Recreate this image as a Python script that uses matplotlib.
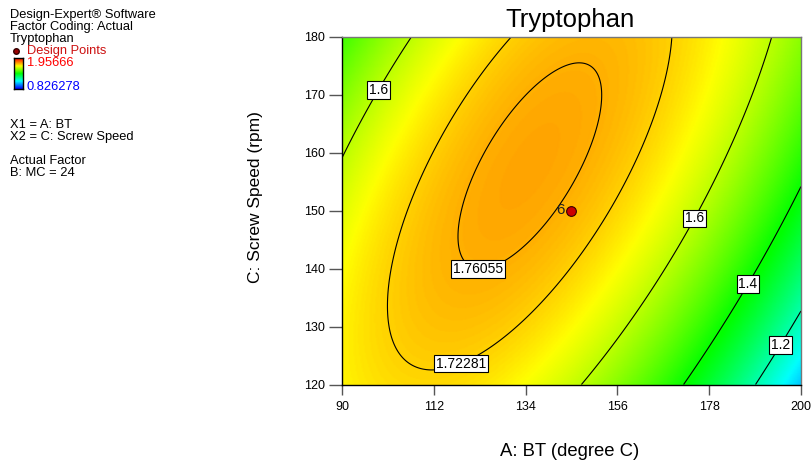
import numpy as np
import matplotlib
matplotlib.use("Agg")
import matplotlib.pyplot as plt
from matplotlib.colors import LinearSegmentedColormap

plt.rcParams['font.family'] = ['Liberation Sans', 'DejaVu Sans']

# ---- data: fitted quadratic model (coded factors) ----
# y = b0 + b1*x1 + b2*x2 + b12*x1*x2 + b11*x1^2 + b22*x2^2,
# x1 = (BT - 145)/55, x2 = (Screw speed - 150)/30
coef_names = ["b0", "b1", "b2", "b12", "b11", "b22"]
coef_values = [1.75215, -0.13688, 0.06859, 0.18027, -0.24865, -0.06936]
bt_range = [90, 200]
speed_range = [120, 180]
contour_levels = [1.2, 1.4, 1.6, 1.72281, 1.76055]
contour_texts = ["1.2", "1.4", "1.6", "1.72281", "1.76055"]
design_bt = [145]
design_speed = [150]
design_reps = ["6"]
x_ticks = [90, 112, 134, 156, 178, 200]
y_ticks = [120, 130, 140, 150, 160, 170, 180]
resp_max = 1.95666
resp_min = 0.826278

# ---- label placement (positions only) ----
label_pos = [(97.9, 171.2), (122.8, 141.0), (117.7, 124.9),
             (173.9, 148.9), (186.7, 137.6), (194.4, 127.1)]

c = dict(zip(coef_names, coef_values))
bt = np.linspace(bt_range[0], bt_range[1], 400)
sp = np.linspace(speed_range[0], speed_range[1], 400)
BT, SP = np.meshgrid(bt, sp)
X1 = (BT - 145) / 55.0
X2 = (SP - 150) / 30.0
Z = (c["b0"] + c["b1"] * X1 + c["b2"] * X2 + c["b12"] * X1 * X2
     + c["b11"] * X1 ** 2 + c["b22"] * X2 ** 2)

cmap = LinearSegmentedColormap.from_list(
    "de", [(0, "#0000ff"), (0.25, "#00ffff"), (0.5, "#00ff00"),
           (0.75, "#ffff00"), (1, "#ff0000")])

fig = plt.figure(figsize=(8.12, 4.61), dpi=100)
ax = fig.add_axes([342 / 812, 1 - 384.5 / 461, 459 / 812, 347.5 / 461])
ax.pcolormesh(BT, SP, Z, cmap=cmap, vmin=resp_min, vmax=resp_max,
              shading="gouraud", rasterized=True)
cs = ax.contour(BT, SP, Z, levels=contour_levels, colors="k", linewidths=0.8)
fmt = dict(zip(contour_levels, contour_texts))
texts = ax.clabel(cs, contour_levels, manual=label_pos, inline=False,
                  fmt=fmt, fontsize=10)
for t in texts:
    t.set_rotation(0)
    t.set_bbox(dict(facecolor="white", edgecolor="black", pad=1.3, linewidth=0.8))

ax.plot(design_bt, design_speed, "o", ms=7, mfc="#cc0000", mec="#330000",
        mew=0.8, zorder=5)
for xb, ys, r in zip(design_bt, design_speed, design_reps):
    ax.annotate(r, (xb, ys), xytext=(-5, 0.5), textcoords="offset points",
                ha="right", va="center", fontsize=11, color="#222222")

ax.set_xlim(bt_range)
ax.set_ylim(speed_range)
ax.set_xticks(x_ticks)
ax.set_yticks(y_ticks)
ax.tick_params(axis="x", direction="out", length=7, width=1, color="#555555",
               labelsize=9, pad=5)
ax.tick_params(axis="y", direction="out", length=9.5, width=1, color="#555555",
               labelsize=9, pad=3)
for s in ["left", "bottom"]:
    ax.spines[s].set_color("black")
    ax.spines[s].set_linewidth(1)
for s in ["top", "right"]:
    ax.spines[s].set_color("#777777")
    ax.spines[s].set_linewidth(1)

fig.text(570 / 812, 1 - 20 / 461, "Tryptophan", ha="center", va="center",
         fontsize=18.5)
fig.text(570 / 812, 1 - 451 / 461, "A: BT (degree C)", ha="center",
         va="center", fontsize=13.3)
fig.text(256 / 812, 1 - 197 / 461, "C: Screw Speed (rpm)", ha="center",
         va="center", rotation=90, fontsize=12.5)

# ---- left information panel ----
def ftxt(x, y, s, color="black"):
    fig.text(x / 812, 1 - y / 461, s, ha="left", va="center", fontsize=9.3,
             color=color)

ftxt(10, 15, "Design-Expert\u00ae Software")
ftxt(10, 27, "Factor Coding: Actual")
ftxt(10, 39, "Tryptophan")
ftxt(27, 50.5, "Design Points", color="#cc1111")
ftxt(27, 62.5, "%.5f" % resp_max, color="#ff0000")
ftxt(27, 87.5, "%.6f" % resp_min, color="#0000ff")
ftxt(10, 124.5, "X1 = A: BT")
ftxt(10, 136.5, "X2 = C: Screw Speed")
ftxt(10, 160.5, "Actual Factor")
ftxt(10, 173, "B: MC = 24")

fig.lines.append(plt.Line2D([15.7 / 812], [1 - 50.5 / 461], marker="o", ms=4,
                            mfc="#990000", mec="#330000", transform=fig.transFigure,
                            figure=fig))
cax = fig.add_axes([14 / 812, 1 - 89.5 / 461, 9 / 812, 31 / 461])
grad = np.linspace(resp_max, resp_min, 64).reshape(-1, 1)
cax.imshow(grad, cmap=cmap, vmin=resp_min, vmax=resp_max, aspect="auto")
cax.set_xticks([])
cax.set_yticks([])
for s in cax.spines.values():
    s.set_linewidth(1)
    s.set_color("black")

fig.savefig("out.png", dpi=100)
